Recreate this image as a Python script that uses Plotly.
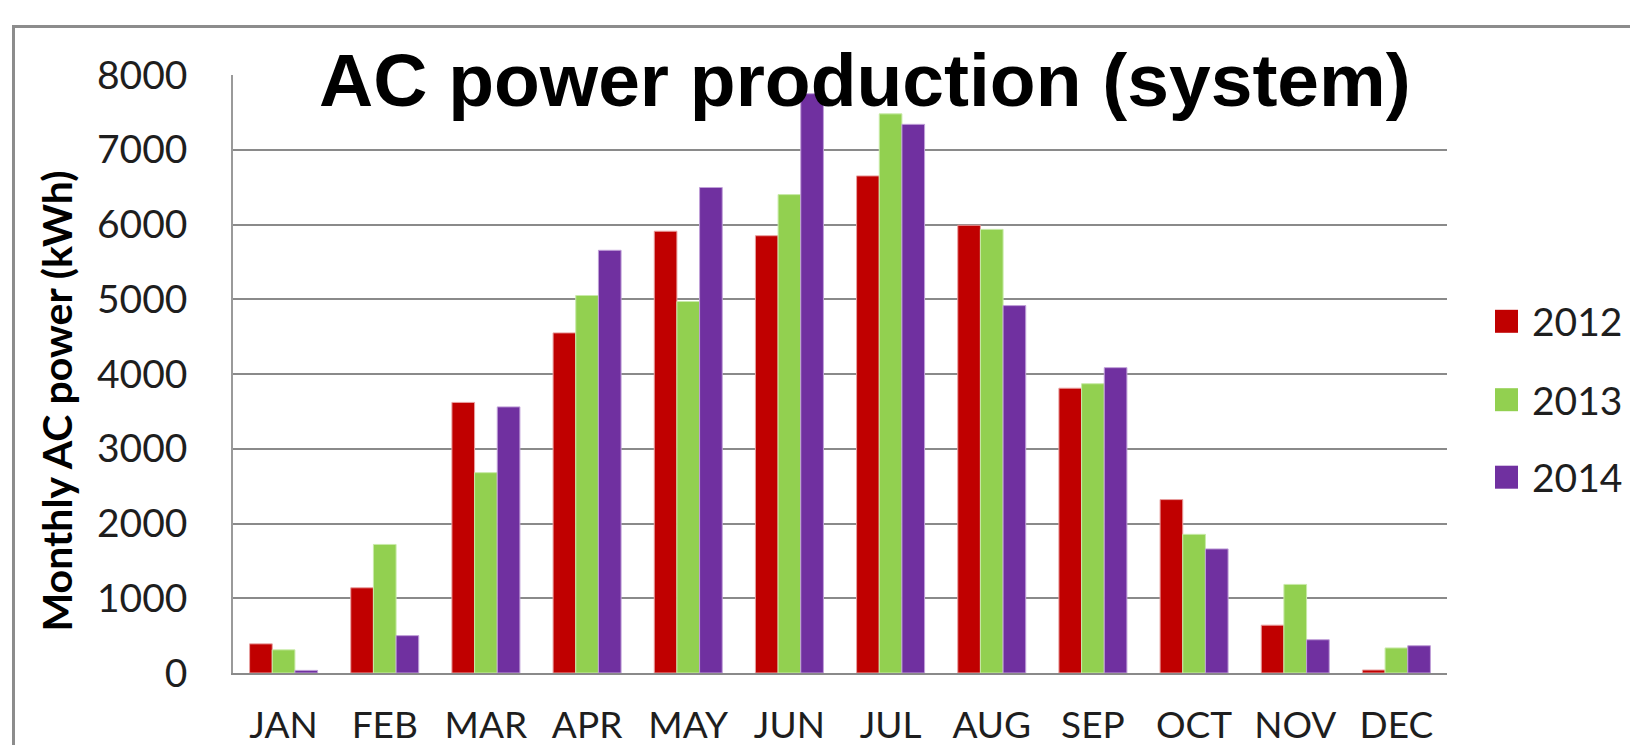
import plotly.graph_objects as go

months = ["JAN", "FEB", "MAR", "APR", "MAY", "JUN", "JUL", "AUG", "SEP", "OCT", "NOV", "DEC"]
years = ["2012", "2013", "2014"]
v2012 = [390, 1140, 3620, 4550, 5910, 5850, 6650, 5990, 3810, 2320, 640, 40]
v2013 = [310, 1720, 2680, 5050, 4970, 6400, 7480, 5935, 3870, 1855, 1185, 335]
v2014 = [35, 500, 3560, 5655, 6495, 7750, 7340, 4915, 4085, 1660, 445, 365]
colors = ["#C00000", "#92D050", "#7030A0"]
edge_colors = ["#E8A0A0", "#C8EAA8", "#C0A0D8"]
series = [v2012, v2013, v2014]
yticks = [0, 1000, 2000, 3000, 4000, 5000, 6000, 7000, 8000]

# page has an 8px body margin; figure fills the rest of the 1638x745 window
OFF = 8
W, H = 1638 - OFF, 745 - OFF
L, R, T, B = 233 - OFF, 191, 75 - OFF, 72
PW, PH = W - L - R, H - T - B


def px_x(px):
    return (px - OFF - L) / PW


def px_y(py):
    return (H - B - (py - OFF)) / PH


fig = go.Figure()
for name, vals, c, ec in zip(years, series, colors, edge_colors):
    fig.add_trace(go.Bar(x=months, y=vals, name=name, marker=dict(color=c, line=dict(color=ec, width=1)),
                         showlegend=False))

tick_font = dict(family="Lato", size=39, color="#1e1e1e")
xtick_font = dict(family="Lato", size=37, color="#1e1e1e")

fig.update_layout(
    width=W, height=H,
    margin=dict(l=L, r=R, t=T, b=B, autoexpand=False),
    paper_bgcolor="white", plot_bgcolor="white",
    barmode="group", bargap=0.328, bargroupgap=0,
    xaxis=dict(showline=True, linecolor="#8a8a8a", linewidth=2, showgrid=False, ticks="",
               tickfont=xtick_font, ticklabelstandoff=19, zeroline=False),
    yaxis=dict(range=[0, 8000], tickvals=yticks, showline=True, linecolor="#9a9a9a", linewidth=1.5,
               showgrid=True, gridcolor="#8a8a8a", gridwidth=2, ticks="", tickfont=tick_font,
               ticklabelstandoff=36, zeroline=False),
    font=dict(family="Lato"),
)

# Outer frame
fig.add_shape(type="rect", xref="paper", yref="paper", x0=px_x(13.5), x1=px_x(1700),
              y0=px_y(800), y1=px_y(26.5), line=dict(color="#8c8c8c", width=3), layer="below")

# Title
fig.add_annotation(text="<b>AC power production (system)</b>", xref="paper", yref="paper",
                   x=px_x(864.5), y=px_y(80), xanchor="center", yanchor="middle", showarrow=False,
                   font=dict(family="Liberation Sans", size=75, color="black"))

# Y axis title
fig.add_annotation(text="<b>Monthly AC power (kWh)</b>", xref="paper", yref="paper",
                   x=px_x(56), y=px_y(401.5), xanchor="center", yanchor="middle", showarrow=False,
                   textangle=-90, font=dict(family="Lato", size=41, color="black"))

# Legend
legend_centers = [321.3, 399.7, 477.2]
for name, c, cy in zip(years, colors, legend_centers):
    fig.add_shape(type="rect", xref="paper", yref="paper", x0=px_x(1495), x1=px_x(1518),
                  y0=px_y(cy + 11.5), y1=px_y(cy - 11.5), fillcolor=c, line=dict(width=0))
    fig.add_annotation(text=name, xref="paper", yref="paper", x=px_x(1530), y=px_y(cy),
                       xanchor="left", yanchor="middle", showarrow=False, font=tick_font)

fig.write_html("out.html")
